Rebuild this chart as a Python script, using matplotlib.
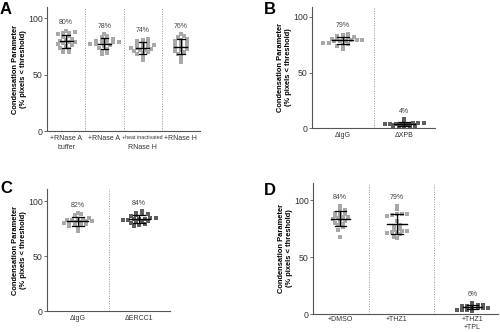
import numpy as np
import matplotlib
matplotlib.use("Agg")
import matplotlib.pyplot as plt
from matplotlib.transforms import blended_transform_factory

plt.rcParams['font.family'] = ['Liberation Sans', 'DejaVu Sans']

# ---------------- data ----------------
a_labels = ["+RNase A\nbuffer", "+RNase A", "", "+RNase H"]
a_pct = ["80%", "78%", "74%", "76%"]
a_vals = [
    [89, 88, 87, 87, 86, 84, 83, 82, 81, 80, 79, 79, 78, 77, 76, 75, 74, 73, 71, 70, 70],
    [86, 84, 83, 82, 81, 80, 80, 79, 79, 78, 78, 77, 77, 76, 75, 74, 73, 71, 69, 68],
    [82, 81, 80, 79, 78, 77, 76, 75, 75, 74, 74, 73, 72, 72, 71, 70, 69, 68, 66, 63],
    [86, 84, 83, 82, 81, 80, 79, 78, 77, 76, 75, 74, 73, 72, 71, 70, 68, 66, 63, 61],
]
b_labels = ["ΔIgG", "ΔXPB"]
b_pct = ["79%", "4%"]
b_vals = [
    [85, 84, 83, 82, 82, 81, 80, 80, 79, 79, 79, 78, 78, 78, 77, 77, 76, 75, 74, 71],
    [8, 6, 5, 5, 5, 4, 4, 4, 4, 4, 3, 3, 3, 3, 3, 2, 2, 2, 1, 1],
]
c_labels = ["ΔIgG", "ΔERCC1"]
c_pct = ["82%", "84%"]
c_vals = [
    [89, 88, 87, 85, 84, 84, 83, 83, 82, 82, 81, 81, 80, 80, 79, 79, 78, 77, 75, 73],
    [91, 89, 88, 88, 87, 86, 85, 85, 84, 84, 84, 83, 83, 82, 82, 81, 80, 79, 78, 77],
]
d_labels = ["+DMSO", "+THZ1", "+THZ1\n+TPL"]
d_pct = ["84%", "79%", "6%"]
d_vals = [
    [95, 92, 91, 90, 89, 88, 87, 86, 85, 85, 84, 83, 82, 81, 80, 79, 78, 76, 74, 68],
    [95, 92, 88, 88, 88, 87, 86, 82, 78, 77, 75, 74, 73, 73, 72, 72, 71, 70, 68, 67],
    [10, 9, 8, 8, 7, 7, 7, 6, 6, 6, 6, 6, 5, 5, 5, 5, 4, 4, 4, 3],
]

LIGHT = '#a8a8a8'
DARK = '#5e5e5e'
SPINE = '#555555'


def swarm(vals, binw, dx):
    vals = np.asarray(vals, float)
    bins = np.round(vals / binw).astype(int)
    off = np.zeros(len(vals))
    for b in np.unique(bins):
        idx = np.where(bins == b)[0]
        n = len(idx)
        order = np.argsort(vals[idx])
        for k, j in enumerate(idx[order]):
            off[j] = (k - (n - 1) / 2) * dx
    return off


def panel(ax, vals, pos, labels, pct, colors, seps, xlim, ylim, dx):
    for v, p, lab, c in zip(vals, pos, pct, colors):
        v = np.asarray(v, float)
        binw = 1.5 if v.max() < 20 else 3.0
        off = swarm(v, binw, dx)
        ax.scatter(p + off, v, s=7, marker='s', color=c, linewidths=0, zorder=2)
        m, sd = v.mean(), v.std(ddof=1)
        ax.plot([p - 0.17, p + 0.17], [m, m], color='black', lw=1.0, zorder=3)
        ax.plot([p, p], [m - sd, m + sd], color='black', lw=0.9, zorder=3)
        for yy in (m - sd, m + sd):
            ax.plot([p - 0.1, p + 0.1], [yy, yy], color='black', lw=0.9, zorder=3)
        ax.text(p, v.max() + 7, lab, ha='center', va='center', fontsize=5, color='#444444')
    for s in seps:
        ax.axvline(s, color='#9a9a9a', lw=0.7, ls=(0, (1, 1.5)), zorder=1)
    ax.set_xlim(*xlim)
    ax.set_ylim(*ylim)
    ax.set_yticks([0, 50, 100])
    ax.set_xticks(pos)
    ax.set_xticklabels(labels, fontsize=5, color='#333333', linespacing=1.25)
    ax.tick_params(axis='y', labelsize=6.3, labelcolor='#333333', length=2, width=0.6, color=SPINE, pad=1)
    ax.tick_params(axis='x', length=0, pad=3)
    for side in ('top', 'right'):
        ax.spines[side].set_visible(False)
    for side in ('left', 'bottom'):
        ax.spines[side].set_color(SPINE)
        ax.spines[side].set_linewidth(0.8)
    ax.set_ylabel("Condensation Parameter\n(% pixels < threshold)", fontsize=5.4,
                  fontweight='bold', linespacing=1.1, labelpad=1)


fig = plt.figure(figsize=(5.0, 3.32), dpi=100)

axA = fig.add_axes([0.094, 0.605, 0.306, 0.374])
panel(axA, a_vals, [0, 1, 2, 3], a_labels, a_pct, [LIGHT] * 4, [0.5, 1.5, 2.5], (-0.5, 3.5), (0, 110), dx=0.15)
trA = blended_transform_factory(axA.transData, axA.transAxes)
axA.text(2, -0.035, "+heat inactivated", transform=trA, ha='center', va='top', fontsize=3.8, color='#333333')
axA.text(2, -0.1, "RNase H", transform=trA, ha='center', va='top', fontsize=5, color='#333333')

axB = fig.add_axes([0.624, 0.614, 0.246, 0.365])
panel(axB, b_vals, [0, 1], b_labels, b_pct, [LIGHT, DARK], [0.5], (-0.5, 1.5), (0, 109), dx=0.09)

axC = fig.add_axes([0.094, 0.063, 0.246, 0.368])
panel(axC, c_vals, [0, 1], c_labels, c_pct, [LIGHT, DARK], [0.5], (-0.5, 1.5), (0, 111), dx=0.09)

axD = fig.add_axes([0.626, 0.054, 0.370, 0.395])
panel(axD, d_vals, [0, 1, 2.33], d_labels, d_pct, [LIGHT, LIGHT, DARK], [0.5, 1.65], (-0.48, 2.78), (0, 115), dx=0.09)
axD.tick_params(axis='x', pad=1.5)

for lab, x, y in [("A", 0.0, 0.995), ("B", 0.528, 0.995), ("C", 0.0, 0.455), ("D", 0.528, 0.45)]:
    fig.text(x, y, lab, fontsize=12, fontweight='bold', ha='left', va='top')

fig.savefig("out.png", dpi=100)
